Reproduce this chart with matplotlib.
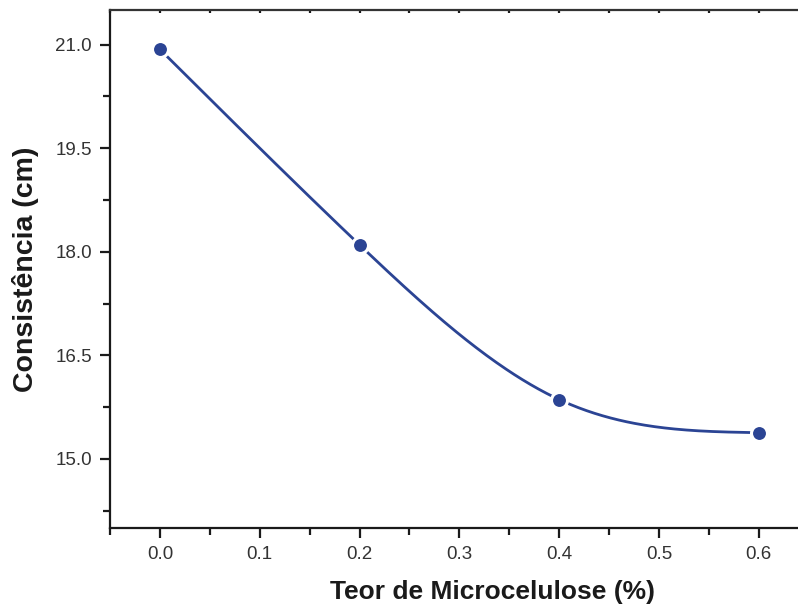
import numpy as np
import matplotlib
matplotlib.use("Agg")
import matplotlib.pyplot as plt
from matplotlib.ticker import MultipleLocator

plt.rcParams['font.family'] = ['Liberation Sans', 'DejaVu Sans']

teor = [0.0, 0.2, 0.4, 0.6]
consistencia = [20.93, 18.10, 15.86, 15.38]
xticks = [0.0, 0.1, 0.2, 0.3, 0.4, 0.5, 0.6]
yticks = [15.0, 16.5, 18.0, 19.5, 21.0]

color = '#2b4494'


def natural_spline(x, y, n=300):
    x = np.asarray(x, float); y = np.asarray(y, float)
    m = len(x)
    h = np.diff(x)
    A = np.zeros((m, m)); b = np.zeros(m)
    A[0, 0] = 1; A[-1, -1] = 1
    for i in range(1, m - 1):
        A[i, i - 1] = h[i - 1]
        A[i, i] = 2 * (h[i - 1] + h[i])
        A[i, i + 1] = h[i]
        b[i] = 3 * ((y[i + 1] - y[i]) / h[i] - (y[i] - y[i - 1]) / h[i - 1])
    c = np.linalg.solve(A, b)
    xs = np.linspace(x[0], x[-1], n)
    ys = np.empty_like(xs)
    for k, xv in enumerate(xs):
        i = min(np.searchsorted(x, xv, side='right') - 1, m - 2)
        dx = xv - x[i]
        bi = (y[i + 1] - y[i]) / h[i] - h[i] * (2 * c[i] + c[i + 1]) / 3
        di = (c[i + 1] - c[i]) / (3 * h[i])
        ys[k] = y[i] + bi * dx + c[i] * dx ** 2 + di * dx ** 3
    return xs, ys


fig = plt.figure(figsize=(7.98, 6.07), dpi=100)
ax = fig.add_axes([110 / 798, 1 - 528 / 607, 1 - 110 / 798, (528 - 10) / 607])

xs, ys = natural_spline(teor, consistencia)
ax.plot(xs, ys, color=color, lw=2.0, zorder=2)
ax.plot(teor, consistencia, 'o', color=color, ms=11.5, mec='white', mew=2.2, zorder=3)

ax.set_xlim(-0.05, 0.6393)
ax.set_ylim(14.0, 21.5)
ax.set_xticks(xticks)
ax.set_yticks(yticks)
ax.xaxis.set_minor_locator(MultipleLocator(0.05))
ax.yaxis.set_minor_locator(MultipleLocator(0.75))
ax.set_xticklabels([f'{v:.1f}' for v in xticks])
ax.set_yticklabels([f'{v:.1f}' for v in yticks])

ax.spines['right'].set_visible(False)
for s in ['left', 'bottom']:
    ax.spines[s].set_linewidth(1.6)
    ax.spines[s].set_color('#1a1a1a')
ax.spines['top'].set_linewidth(1.6)
ax.spines['top'].set_color('#333333')

ax.tick_params(axis='both', which='major', direction='out', length=7, width=1.6,
               labelsize=13.5, labelcolor='#333333', color='#1a1a1a', pad=6)
ax.tick_params(axis='both', which='minor', direction='out', length=5, width=1.6, color='#1a1a1a')
ax.tick_params(axis='x', which='both', top=True)
ax.tick_params(axis='x', which='major', top=True)
for t in ax.xaxis.get_major_ticks() + ax.xaxis.get_minor_ticks():
    t.tick2line.set_markersize(2.5)
    t.tick2line.set_marker(matplotlib.lines.TICKDOWN)

ax.set_xlabel('Teor de Microcelulose (%)', fontsize=19, fontweight='bold', color='#1a1a1a', labelpad=12)
ax.xaxis.label.set_x((493 - 110) / 688)
ax.set_ylabel('Consistência (cm)', fontsize=20.5, fontweight='bold', color='#1a1a1a', labelpad=12)

fig.savefig('out.png', dpi=100)
